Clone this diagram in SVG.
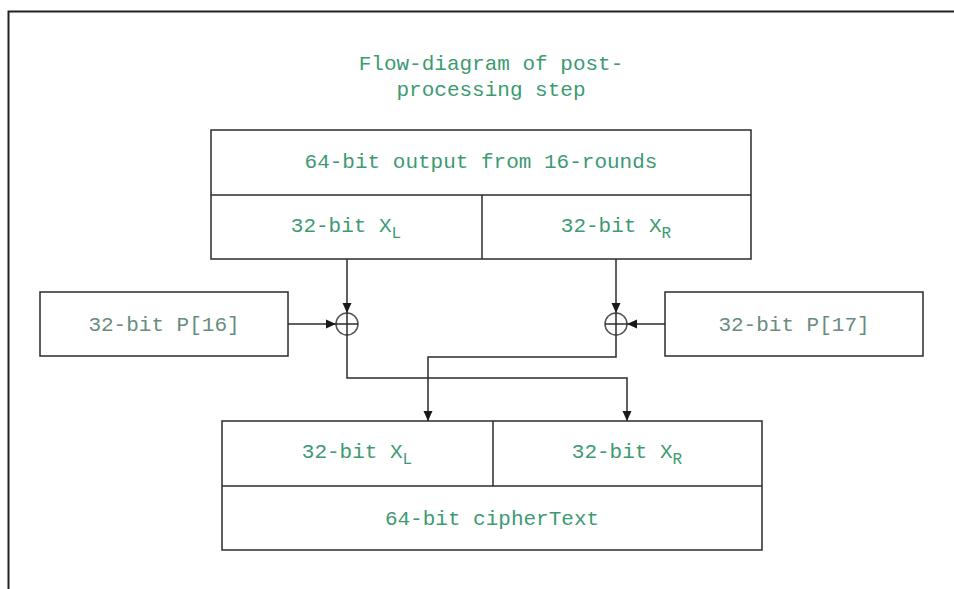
<svg xmlns="http://www.w3.org/2000/svg" width="954" height="589" viewBox="0 0 954 589">
<style>
.box{fill:#fff;stroke:#2b2b2b;stroke-width:1.5}
.ln{fill:none;stroke:#2b2b2b;stroke-width:1.5}
.t{font-family:"Liberation Mono","DejaVu Sans Mono",monospace;font-size:21px;fill:#3d9a72;text-anchor:middle}
.g{fill:#6a8c80}
.sub{font-size:16px}
</style>
<defs>
<marker id="ah" markerWidth="12" markerHeight="12" refX="10" refY="6" orient="auto" markerUnits="userSpaceOnUse">
<path d="M0,1.5 L10,6 L0,10.5 z" fill="#1a1a1a"/>
</marker>
</defs>
<rect x="0" y="0" width="954" height="589" fill="#fff"/>
<path d="M8.5,589 V11.5 H954" fill="none" stroke="#222" stroke-width="2"/>
<g id="title">
<text class="t" x="491" y="70">Flow-diagram of post-</text>
<text class="t" x="491" y="96">processing step</text>
</g>
<g id="input">
<rect class="box" x="211" y="130" width="540" height="129"/>
<line class="ln" x1="211" y1="195" x2="751" y2="195"/>
<line class="ln" x1="482" y1="195" x2="482" y2="259"/>
<text class="t" x="481" y="168">64-bit output from 16-rounds</text>
<text class="t" x="346" y="232">32-bit X<tspan class="sub" dy="6">L</tspan></text>
<text class="t" x="616" y="232">32-bit X<tspan class="sub" dy="6">R</tspan></text>
</g>
<g id="p16">
<rect class="box" x="40" y="292" width="248" height="64"/>
<text class="t g" x="164" y="331">32-bit P[16]</text>
</g>
<g id="p17">
<rect class="box" x="665" y="292" width="258" height="64"/>
<text class="t g" x="794" y="331">32-bit P[17]</text>
</g>
<g id="xor-left">
<circle cx="347" cy="324" r="11" fill="none" stroke="#555" stroke-width="1.5"/>
<line class="ln" x1="336" y1="324" x2="358" y2="324"/>
<line class="ln" x1="347" y1="313" x2="347" y2="335"/>
</g>
<g id="xor-right">
<circle cx="616" cy="324" r="11" fill="none" stroke="#555" stroke-width="1.5"/>
<line class="ln" x1="605" y1="324" x2="627" y2="324"/>
<line class="ln" x1="616" y1="313" x2="616" y2="335"/>
</g>
<g id="output">
<rect class="box" x="222" y="421" width="540" height="129"/>
<line class="ln" x1="222" y1="486" x2="762" y2="486"/>
<line class="ln" x1="493" y1="421" x2="493" y2="486"/>
<text class="t" x="357" y="458">32-bit X<tspan class="sub" dy="6">L</tspan></text>
<text class="t" x="627" y="458">32-bit X<tspan class="sub" dy="6">R</tspan></text>
<text class="t" x="492" y="525">64-bit cipherText</text>
</g>
<g id="connectors">
<path class="ln" d="M347,259 V313" marker-end="url(#ah)"/>
<path class="ln" d="M616,259 V313" marker-end="url(#ah)"/>
<path class="ln" d="M288,324 H336" marker-end="url(#ah)"/>
<path class="ln" d="M665,324 H627" marker-end="url(#ah)"/>
<path class="ln" d="M347,335 V378 H627 V421" marker-end="url(#ah)"/>
<path class="ln" d="M616,335 V357 H428 V421" marker-end="url(#ah)"/>
</g>
</svg>
